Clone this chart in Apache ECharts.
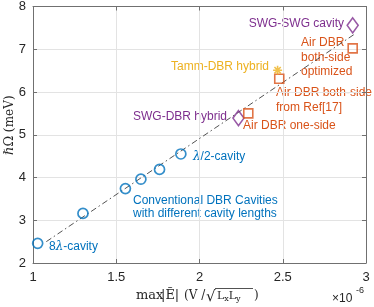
<!DOCTYPE html>
<html><head><meta charset="utf-8">
<script src="https://cdn.jsdelivr.net/npm/echarts/dist/echarts.min.js"></script>
<style>html,body{margin:0;padding:0;background:#fff}#c{width:374px;height:307px}</style>
</head><body><div id="c"></div>
<script>
// Data (x in units of 1e-6)
const convX = [1.028, 1.30, 1.555, 1.648, 1.76, 1.888];
const convY = [2.46, 3.16, 3.74, 3.96, 4.19, 4.55];
const swgX = [2.234, 2.92];
const swgY = [5.39, 7.56];
const airX = [2.293, 2.479, 2.92];
const airY = [5.50, 6.31, 7.02];
const tammX = [2.469];
const tammY = [6.51];
const fitX = [1.08, 2.93];
const fitY = [2.50, 7.35];
const xTicks = [1, 1.5, 2, 2.5, 3];
const yTicks = [2, 3, 4, 5, 6, 7, 8];

const zip = (a, b) => a.map((v, i) => [v, b[i]]);
const BLUE = '#0072BD', ORANGE = '#D95319', YEL = '#EDB120', PURP = '#7E2F8E', TXT = '#262626';
const SANS = '"Liberation Sans", Arial, sans-serif';
const SERIF = '"DejaVu Serif", "Liberation Serif", serif';

const axisCommon = {
  type: 'value',
  axisLine: { show: true, lineStyle: { color: '#707070', width: 1 } },
  axisTick: { show: true, inside: true, length: 4, lineStyle: { color: '#707070' } },
  splitLine: { show: true, lineStyle: { color: '#e3e3e3', width: 1 } },
};

function txt(text, x, y, color, align, extra) {
  return Object.assign({ type: 'text', style: { text, x, y, fill: color, font: '12px ' + SANS, textAlign: align || 'left', textVerticalAlign: 'middle' } }, extra || {});
}

const chart = echarts.init(document.getElementById('c'), null, { renderer: 'canvas' });
chart.setOption({
  animation: false,
  grid: { left: 33, right: 8, top: 5, bottom: 44 },
  xAxis: [
    Object.assign({}, axisCommon, {
      min: xTicks[0], max: xTicks[xTicks.length - 1], interval: 0.5, position: 'bottom',
      axisLabel: { color: TXT, fontSize: 13, fontFamily: SANS, margin: 8 }
    }),
    Object.assign({}, axisCommon, {
      min: xTicks[0], max: xTicks[xTicks.length - 1], interval: 0.5, position: 'top',
      axisLabel: { show: false }, splitLine: { show: false }
    })
  ],
  yAxis: [
    Object.assign({}, axisCommon, {
      min: yTicks[0], max: yTicks[yTicks.length - 1], interval: 1, position: 'left',
      axisLabel: { color: TXT, fontSize: 13, fontFamily: SANS, margin: 7 }
    }),
    Object.assign({}, axisCommon, {
      min: yTicks[0], max: yTicks[yTicks.length - 1], interval: 1, position: 'right',
      axisLabel: { show: false }, splitLine: { show: false }
    })
  ],
  series: [
    { type: 'line', data: zip(fitX, fitY), symbol: 'none', z: 1,
      lineStyle: { color: '#404040', width: 0.9, type: [6, 3, 1.5, 3] } },
    { type: 'scatter', data: zip(convX, convY), symbol: 'circle', symbolSize: 10,
      itemStyle: { color: 'rgba(0,0,0,0)', borderColor: BLUE, borderWidth: 1.7 } },
    { type: 'scatter', data: zip(swgX, swgY), symbol: 'diamond', symbolSize: [11, 15],
      itemStyle: { color: 'rgba(0,0,0,0)', borderColor: PURP, borderWidth: 1.6 } },
    { type: 'scatter', data: zip(airX, airY), symbol: 'rect', symbolSize: 9,
      itemStyle: { color: 'rgba(0,0,0,0)', borderColor: ORANGE, borderWidth: 1.6 } },
    { type: 'scatter', data: zip(tammX, tammY),
      symbol: 'path://M5,0L5,10M0,5L10,5M1.5,1.5L8.5,8.5M1.5,8.5L8.5,1.5', symbolSize: 9,
      itemStyle: { color: 'rgba(0,0,0,0)', borderColor: YEL, borderWidth: 1.6 } }
  ],
  graphic: [
    txt('SWG-SWG cavity', 344, 24, PURP, 'right'),
    txt('Air DBR', 301, 43, ORANGE),
    txt('both-side', 301, 58, ORANGE),
    txt('optimized', 301, 72, ORANGE),
    txt('Tamm-DBR hybrid', 269, 67, YEL, 'right'),
    txt('Air DBR both-side', 276, 93, ORANGE),
    txt('from Ref[17]', 276, 108, ORANGE),
    txt('SWG-DBR hybrid', 133, 117, PURP),
    txt('Air DBR one-side', 243, 126, ORANGE),
    { type: 'text', style: { text: '{l|λ}{s|/2-cavity}', x: 193, y: 157, textVerticalAlign: 'middle',
      rich: { l: { font: 'italic 12px ' + SERIF, fill: BLUE }, s: { font: '12px ' + SANS, fill: BLUE } } } },
    txt('Conventional DBR Cavities', 133, 201, BLUE),
    txt('with different cavity lengths', 133, 214, BLUE),
    { type: 'text', style: { text: '{s|8}{l|λ}{s|-cavity}', x: 49, y: 247, textVerticalAlign: 'middle',
      rich: { l: { font: 'italic 12px ' + SERIF, fill: BLUE }, s: { font: '12px ' + SANS, fill: BLUE } } } },
    // y axis label
    { type: 'text', x: 10, y: 125, rotation: Math.PI / 2,
      style: { text: '{i|ℏ}{n|Ω} {n|(}{m|meV}{n|)}', textAlign: 'center', textVerticalAlign: 'middle',
        rich: { i: { font: 'italic 13px ' + SERIF, fill: TXT }, n: { font: '13px ' + SERIF, fill: TXT }, m: { font: '12px ' + SERIF, fill: TXT } } } },
    // x axis label
    { type: 'text', style: { text: 'max', x: 136, y: 296, fill: TXT, font: '13px ' + SERIF, textVerticalAlign: 'middle' } },
    { type: 'text', style: { text: '|Ẽ|', x: 161, y: 296, fill: TXT, font: '13px ' + SERIF, textVerticalAlign: 'middle' } },
    { type: 'text', style: { text: '(V / ', x: 184, y: 296, fill: TXT, font: '12px ' + SERIF, textVerticalAlign: 'middle' } },
    { type: 'text', style: { text: '√', x: 206, y: 297, fill: TXT, font: '15px ' + SERIF, textVerticalAlign: 'middle' } },
    { type: 'line', shape: { x1: 215, y1: 288.5, x2: 253, y2: 288.5 }, style: { stroke: TXT, lineWidth: 0.8 } },
    { type: 'text', style: { text: '{a|L}{b|x}{a|L}{b|y}', x: 217, y: 296, textVerticalAlign: 'middle',
      rich: { a: { font: '11px ' + SERIF, fill: TXT }, b: { font: '8px ' + SERIF, fill: TXT, padding: [6, 0, 0, 0] } } } },
    { type: 'text', style: { text: ')', x: 254, y: 296, fill: TXT, font: '12px ' + SERIF, textVerticalAlign: 'middle' } },
    // exponent
    { type: 'text', style: { text: '×10', x: 332, y: 299, fill: TXT, font: '12px ' + SANS, textVerticalAlign: 'middle' } },
    { type: 'text', style: { text: '-6', x: 356, y: 291, fill: TXT, font: '9px ' + SANS, textVerticalAlign: 'middle' } }
  ]
});
</script>
</body></html>
